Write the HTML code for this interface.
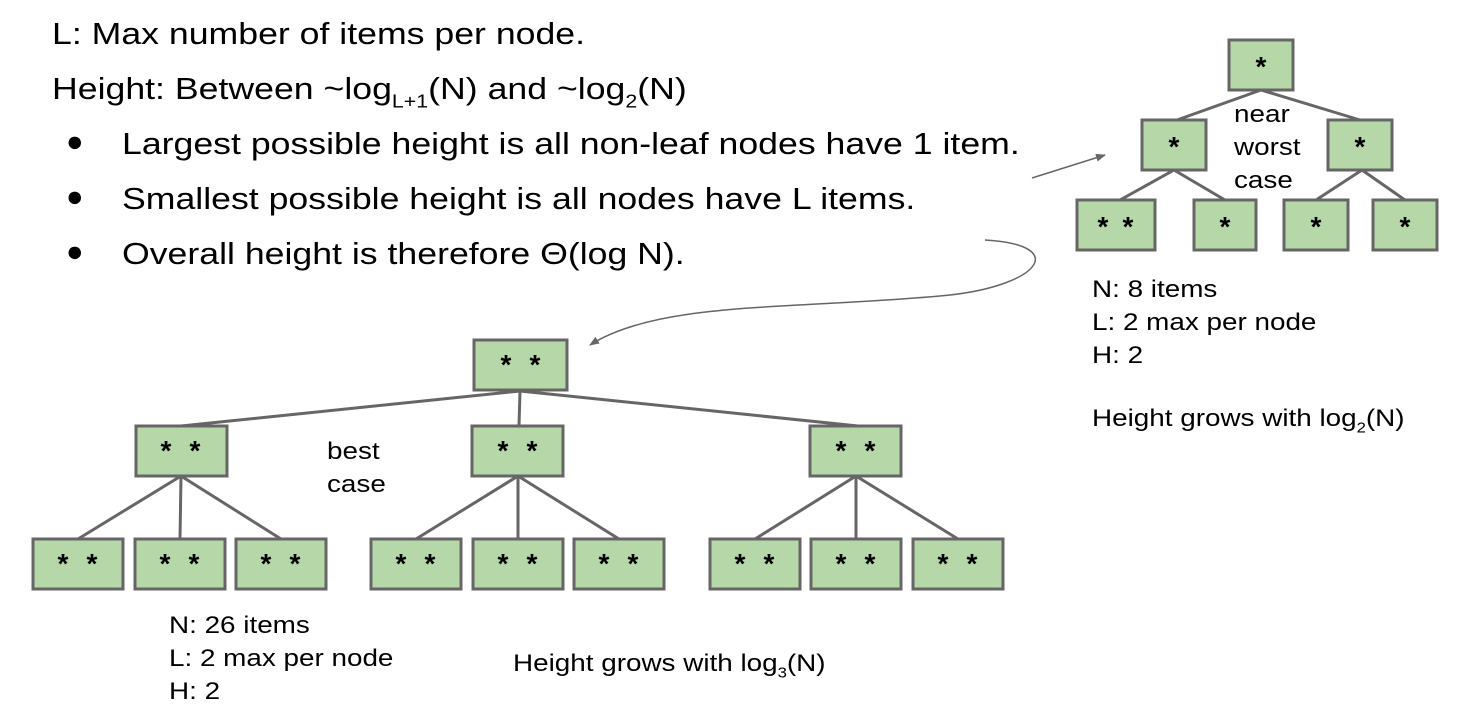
<!DOCTYPE html>
<html><head><style>
body{margin:0;width:1460px;height:710px;background:#fff;position:relative;overflow:hidden;font-family:"Liberation Sans",Arial,sans-serif;color:#000}
.t{position:absolute;white-space:nowrap;transform-origin:0 0}
.big{font-size:31px;transform:scaleX(1.15)}
.sm{font-size:24px;transform:scaleX(1.16)}
sub{font-size:60%;vertical-align:-0.45em;line-height:0}
</style></head><body>
<svg width="1460" height="710" style="position:absolute;left:0;top:0">
<defs><marker id="a" markerWidth="10" markerHeight="8" refX="9" refY="4" orient="auto" markerUnits="userSpaceOnUse"><path d="M0,0L10,4L0,8z" fill="#666"/></marker></defs>
<g stroke="#666" stroke-width="3" fill="none">
<path d="M1261,90L1177,120M1261,90L1360,120M1174,170L1120,200M1174,170L1225,200M1362,170L1316,200M1362,170L1405,200"/>
<path d="M520,391L181,426M520,391L519,426M520,391L858,426"/>
<path d="M181,476L78,539M181,476L180,539M181,476L281,539"/>
<path d="M518,476L416,539M518,476L518,539M518,476L619,539"/>
<path d="M856,476L755,539M856,476L856,539M856,476L958,539"/>
</g>
<g stroke="#666" stroke-width="1.5" fill="none">
<path d="M1032,178L1105,155" marker-end="url(#a)"/>
<path d="M985,240C1070,245 1040,285 950,295C800,310 660,300 590,345" marker-end="url(#a)"/>
</g>
<g fill="#b6d7a8" stroke="#666" stroke-width="3">
<rect x="1229" y="40" width="64" height="50"/>
<rect x="1142" y="120" width="64" height="50"/><rect x="1328" y="120" width="64" height="50"/>
<rect x="1077" y="200" width="78" height="50"/><rect x="1194" y="200" width="62" height="50"/><rect x="1284" y="200" width="64" height="50"/><rect x="1373" y="200" width="64" height="50"/>
<rect x="474" y="340" width="93" height="50"/>
<rect x="136" y="426" width="91" height="50"/><rect x="472" y="426" width="91" height="50"/><rect x="810" y="426" width="91" height="50"/>
<rect x="33" y="539" width="90" height="50"/><rect x="135" y="539" width="90" height="50"/><rect x="236" y="539" width="90" height="50"/>
<rect x="371" y="539" width="90" height="50"/><rect x="473" y="539" width="90" height="50"/><rect x="574" y="539" width="90" height="50"/>
<rect x="710" y="539" width="90" height="50"/><rect x="811" y="539" width="90" height="50"/><rect x="913" y="539" width="90" height="50"/>
</g>
<g font-family="Liberation Sans,Arial,sans-serif" font-size="28" font-weight="bold" text-anchor="middle">
<text x="1261" y="76">*</text>
<text x="1174" y="156">*</text><text x="1360" y="156">*</text>
<text x="1103" y="236">*</text><text x="1128" y="236">*</text><text x="1225" y="236">*</text><text x="1316" y="236">*</text><text x="1405" y="236">*</text>
<text x="506" y="374">*</text><text x="535" y="374">*</text>
<text x="166" y="460">*</text><text x="195" y="460">*</text>
<text x="503" y="460">*</text><text x="532" y="460">*</text>
<text x="841" y="460">*</text><text x="870" y="460">*</text>
<text x="63" y="573">*</text><text x="92" y="573">*</text>
<text x="165" y="573">*</text><text x="194" y="573">*</text>
<text x="266" y="573">*</text><text x="295" y="573">*</text>
<text x="401" y="573">*</text><text x="430" y="573">*</text>
<text x="503" y="573">*</text><text x="532" y="573">*</text>
<text x="604" y="573">*</text><text x="633" y="573">*</text>
<text x="740" y="573">*</text><text x="769" y="573">*</text>
<text x="841" y="573">*</text><text x="870" y="573">*</text>
<text x="943" y="573">*</text><text x="972" y="573">*</text>
</g>
</svg>
<div class="t big" style="left:52px;top:16px">L: Max number of items per node.</div>
<div class="t big" style="left:52px;top:71px">Height: Between ~log<sub>L+1</sub>(N) and ~log<sub>2</sub>(N)</div>
<div class="t" style="left:66px;top:126px;font-size:29px">●</div><div class="t big" style="left:122px;top:126px">Largest possible height is all non-leaf nodes have 1 item.</div>
<div class="t" style="left:66px;top:181px;font-size:29px">●</div><div class="t big" style="left:122px;top:181px">Smallest possible height is all nodes have L items.</div>
<div class="t" style="left:66px;top:236px;font-size:29px">●</div><div class="t big" style="left:122px;top:236px">Overall height is therefore Θ(log N).</div>
<div class="t sm" style="left:1234px;top:98px;line-height:33px">near<br>worst<br>case</div>
<div class="t sm" style="left:327px;top:435px;line-height:33px">best<br>case</div>
<div class="t sm" style="left:1092px;top:273px;line-height:33px">N: 8 items<br>L: 2 max per node<br>H: 2</div>
<div class="t sm" style="left:1092px;top:405px">Height grows with log<sub>2</sub>(N)</div>
<div class="t sm" style="left:169px;top:609px;line-height:33px">N: 26 items<br>L: 2 max per node<br>H: 2</div>
<div class="t sm" style="left:513px;top:650px">Height grows with log<sub>3</sub>(N)</div>
</body></html>
